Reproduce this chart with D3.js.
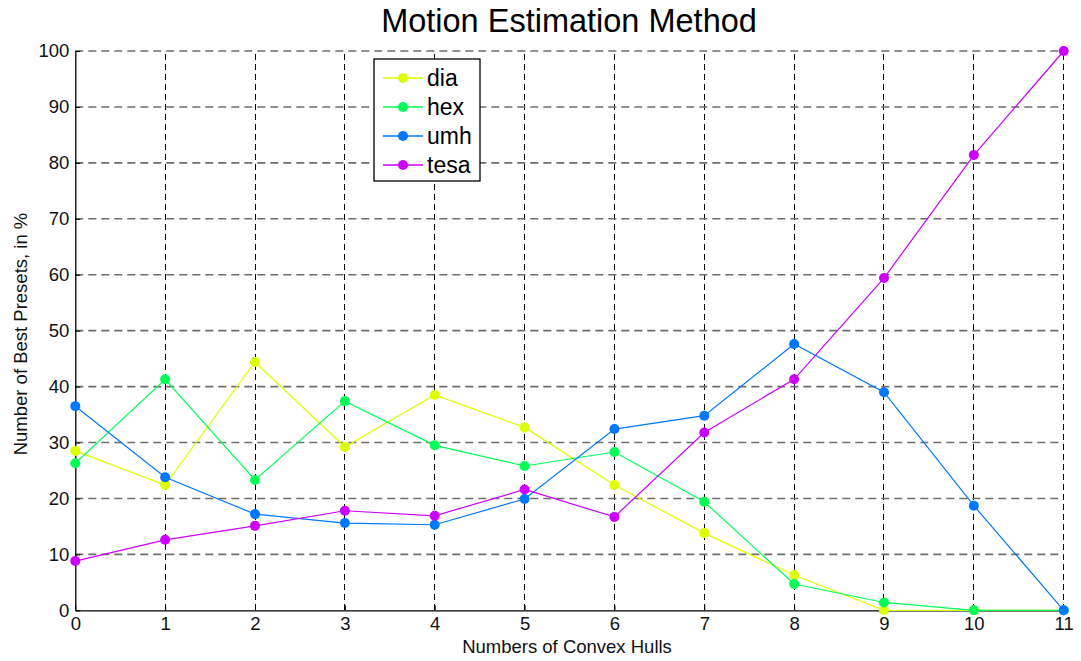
<!DOCTYPE html>
<html>
<head>
<meta charset="utf-8">
<script src="https://cdn.jsdelivr.net/npm/d3@7/dist/d3.min.js"></script>
<style>
  html, body { margin: 0; padding: 0; background: #fff; }
  svg { display: block; font-family: "Liberation Sans", Arial, sans-serif; }
</style>
</head>
<body>
<svg id="chart" width="1081" height="661"></svg>
<script>
// Share of best presets per number of convex hulls, by motion estimation method
const hulls = [0, 1, 2, 3, 4, 5, 6, 7, 8, 9, 10, 11];
const dia  = [28.5, 22.4, 44.4, 29.2, 38.5, 32.7, 22.4, 13.8, 6.3, 0, 0, 0];
const hex  = [26.3, 41.3, 23.3, 37.4, 29.5, 25.8, 28.3, 19.4, 4.7, 1.4, 0, 0];
const umh  = [36.5, 23.8, 17.2, 15.6, 15.3, 19.9, 32.4, 34.8, 47.6, 39.0, 18.7, 0];
const tesa = [8.8, 12.6, 15.1, 17.8, 16.9, 21.6, 16.7, 31.8, 41.3, 59.4, 81.4, 100];
const seriesNames = ["dia", "hex", "umh", "tesa"];
const seriesColors = ["#ddff00", "#00ff55", "#0077ff", "#cc00ff"];
const yTicks = [0, 10, 20, 30, 40, 50, 60, 70, 80, 90, 100];

const series = [dia, hex, umh, tesa].map((vals, i) => ({
  name: seriesNames[i],
  color: seriesColors[i],
  points: hulls.map((h, j) => ({ x: h, y: vals[j] }))
}));

const svg = d3.select("#chart");
const W = 1081, H = 661;
const margin = { left: 75.3, right: W - 1063.7, top: 51, bottom: H - 610.3 };

const x = d3.scaleLinear().domain([0, 11]).range([margin.left, W - margin.right]);
const y = d3.scaleLinear().domain([0, 100]).range([H - margin.bottom, margin.top]);

// Grid: vertical lines (thin black dashes), horizontal lines (grey dashes)
const grid = svg.append("g");
grid.selectAll("line.v").data(hulls.slice(1)).join("line")
  .attr("x1", d => x(d)).attr("x2", d => x(d))
  .attr("y1", y(0)).attr("y2", y(100))
  .attr("stroke", "#000").attr("stroke-width", 1)
  .attr("stroke-dasharray", "6,4")
  .attr("shape-rendering", "crispEdges");
grid.selectAll("line.h").data(yTicks.slice(1)).join("line")
  .attr("x1", x(0)).attr("x2", x(11))
  .attr("y1", d => y(d)).attr("y2", d => y(d))
  .attr("stroke", "#6e6e6e").attr("stroke-width", 1.6)
  .attr("stroke-dasharray", "8,5");

// Axes
const xAxis = d3.axisBottom(x).tickValues(hulls).tickSize(-5).tickPadding(6).tickSizeOuter(0);
const yAxis = d3.axisLeft(y).tickValues(yTicks).tickSize(-5).tickPadding(6).tickSizeOuter(0);

const gx = svg.append("g").attr("transform", `translate(0,${y(0)})`).call(xAxis);
const gy = svg.append("g").attr("transform", `translate(${x(0)},0)`).call(yAxis);
[gx, gy].forEach(g => {
  g.select(".domain").attr("stroke", "#000").attr("stroke-width", 1.3);
  g.selectAll(".tick line").attr("stroke", "#000");
  g.selectAll(".tick text").attr("font-size", 18.5).attr("fill", "#111")
    .attr("font-family", "'Liberation Sans', Arial, sans-serif");
});
gx.selectAll(".tick text").attr("dy", "0.72em");

// Lines and markers
const line = d3.line().x(d => x(d.x)).y(d => y(d.y));
const gs = svg.append("g").selectAll("g").data(series).join("g");
gs.append("path")
  .attr("d", d => line(d.points))
  .attr("fill", "none")
  .attr("stroke", d => d.color)
  .attr("stroke-width", 1.2);
gs.each(function(s) {
  d3.select(this).selectAll("circle").data(s.points).join("circle")
    .attr("cx", d => x(d.x)).attr("cy", d => y(d.y))
    .attr("r", 5)
    .attr("fill", s.color);
});

// Legend
const lg = svg.append("g").attr("transform", "translate(374,59)");
lg.append("rect").attr("width", 106).attr("height", 122)
  .attr("fill", "#fff").attr("stroke", "#000").attr("stroke-width", 1.3);
series.forEach((s, i) => {
  const cy = 19 + i * 29;
  lg.append("line").attr("x1", 9).attr("x2", 49).attr("y1", cy).attr("y2", cy)
    .attr("stroke", s.color).attr("stroke-width", 1.5);
  lg.append("circle").attr("cx", 29).attr("cy", cy).attr("r", 5).attr("fill", s.color);
  lg.append("text").attr("x", 53).attr("y", cy).attr("dy", "0.36em")
    .attr("font-size", 23).attr("fill", "#000").text(s.name);
});

// Titles
svg.append("text").attr("x", 569).attr("y", 32).attr("text-anchor", "middle")
  .attr("font-size", 32.5).attr("fill", "#000").text("Motion Estimation Method");
svg.append("text").attr("x", 567).attr("y", 653).attr("text-anchor", "middle")
  .attr("font-size", 18.5).attr("fill", "#111").text("Numbers of Convex Hulls");
svg.append("text").attr("transform", "translate(27,334) rotate(-90)")
  .attr("text-anchor", "middle").attr("font-size", 18.5).attr("fill", "#111")
  .text("Number of Best Presets, in %");
</script>
</body>
</html>
